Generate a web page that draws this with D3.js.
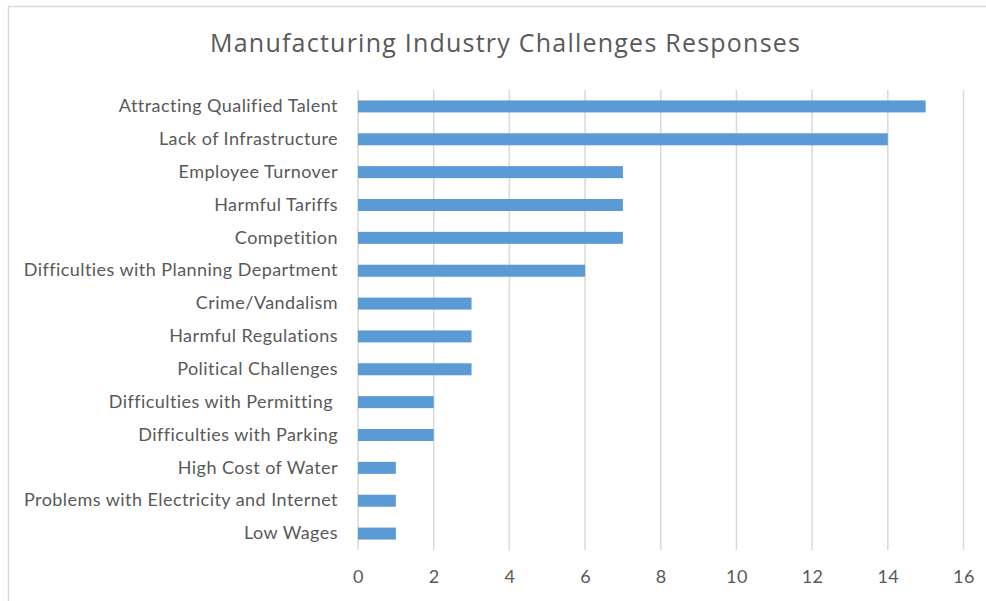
<!DOCTYPE html>
<html>
<head>
<meta charset="utf-8">
<script src="https://cdn.jsdelivr.net/npm/d3@7"></script>
<style>
  html, body { margin: 0; padding: 0; background: #fff; }
  svg { display: block; }
  text { font-family: Lato, "Open Sans", sans-serif; fill: #595959; }
</style>
</head>
<body>
<svg id="chart" width="986" height="601"></svg>
<script>
// Survey responses: challenges reported by manufacturers
const categories = [
  "Attracting Qualified Talent",
  "Lack of Infrastructure",
  "Employee Turnover",
  "Harmful Tariffs",
  "Competition",
  "Difficulties with Planning Department",
  "Crime/Vandalism",
  "Harmful Regulations",
  "Political Challenges",
  "Difficulties with Permitting ",
  "Difficulties with Parking",
  "High Cost of Water",
  "Problems with Electricity and Internet",
  "Low Wages"
];
const responses = [15, 14, 7, 7, 7, 6, 3, 3, 3, 2, 2, 1, 1, 1];
const xTicks = [0, 2, 4, 6, 8, 10, 12, 14, 16];
const chartTitle = "Manufacturing Industry Challenges Responses";

const svg = d3.select("#chart");

// Chart area frame (top and left edges visible)
svg.append("path")
  .attr("d", "M8.5,601 V6.5 H986")
  .attr("fill", "none")
  .attr("stroke", "#D9D9D9")
  .attr("stroke-width", 1.5);

const plot = { left: 358, right: 963.5, top: 90, bottom: 550 };

const x = d3.scaleLinear().domain([0, 16]).range([plot.left, plot.right]);
const y = d3.scaleBand().domain(categories).range([plot.top, plot.bottom]).paddingInner(0.635).paddingOuter(0.3175);

// Vertical gridlines
svg.append("g")
  .selectAll("line")
  .data(xTicks)
  .join("line")
  .attr("x1", d => x(d)).attr("x2", d => x(d))
  .attr("y1", plot.top).attr("y2", plot.bottom)
  .attr("stroke", "#D9D9D9")
  .attr("stroke-width", 1.5);

// Bars
svg.append("g")
  .selectAll("rect")
  .data(responses)
  .join("rect")
  .attr("x", x(0))
  .attr("y", (d, i) => y(categories[i]))
  .attr("width", d => x(d) - x(0))
  .attr("height", y.bandwidth())
  .attr("fill", "#5B9BD5");

// Category axis
const yAxis = svg.append("g")
  .attr("transform", `translate(${x(0)},0)`)
  .call(d3.axisLeft(y).tickSize(0).tickPadding(20));
yAxis.select(".domain").remove();
yAxis.selectAll("text")
  .style("font-family", "Lato, 'Open Sans', sans-serif")
  .style("font-size", "18px")
  .style("letter-spacing", "0.45px")
  .style("fill", "#595959")
  .style("white-space", "pre");

// Value axis
const xAxis = svg.append("g")
  .attr("transform", `translate(0,${plot.bottom})`)
  .call(d3.axisBottom(x).tickValues(xTicks).tickSize(0).tickPadding(20));
xAxis.select(".domain").remove();
xAxis.selectAll("text")
  .style("font-family", "Lato, 'Open Sans', sans-serif")
  .style("font-size", "18px")
  .style("letter-spacing", "0.45px")
  .style("fill", "#595959");

// Title
svg.append("text")
  .attr("x", 505)
  .attr("y", 52)
  .attr("text-anchor", "middle")
  .attr("textLength", 590)
  .attr("lengthAdjust", "spacing")
  .style("font-family", "'Open Sans', Lato, sans-serif")
  .style("font-size", "25px")
  .text(chartTitle);
</script>
</body>
</html>
